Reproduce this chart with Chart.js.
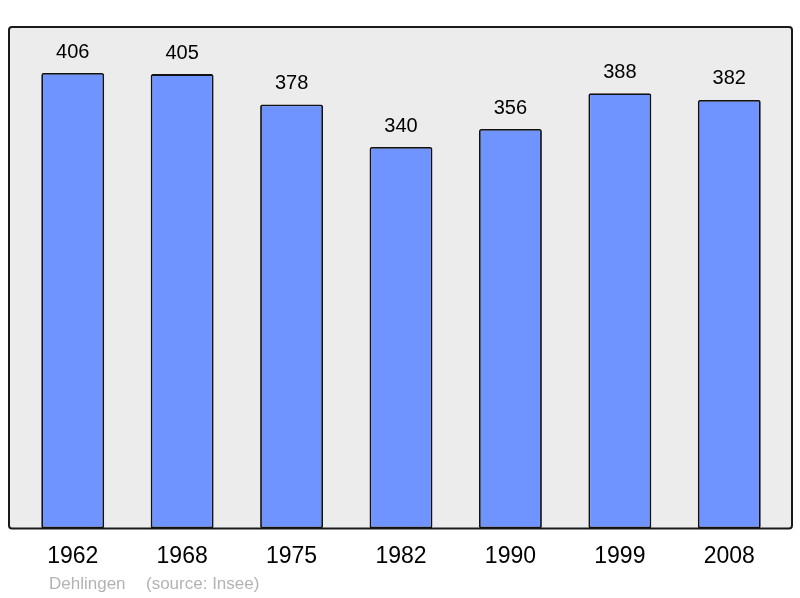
<!DOCTYPE html>
<html>
<head>
<meta charset="utf-8">
<script src="https://cdn.jsdelivr.net/npm/chart.js@4"></script>
<style>
html,body{margin:0;padding:0;background:#fff;}
#wrap{width:800px;height:598px;}
</style>
</head>
<body>
<div id="wrap"><canvas id="c" width="800" height="598"></canvas></div>
<script>
const categories = ["1962","1968","1975","1982","1990","1999","2008"];
const population = [406,405,378,340,356,388,382];
const footerName = "Dehlingen";
const footerSource = "(source: Insee)";

const boxPlugin = {
  id: 'box',
  beforeDraw(chart) {
    const {ctx, chartArea: a} = chart;
    const x = a.left - 9, y = a.top, w = (a.right + 8) - x, h = a.bottom - a.top;
    ctx.save();
    ctx.beginPath();
    ctx.roundRect(x, y, w, h, 3);
    ctx.fillStyle = '#ececec';
    ctx.fill();
    ctx.lineWidth = 2;
    ctx.strokeStyle = '#1a1a1a';
    ctx.stroke();
    ctx.restore();
  },
  afterDatasetsDraw(chart) {
    const {ctx} = chart;
    const meta = chart.getDatasetMeta(0);
    ctx.save();
    ctx.font = '20px "Liberation Sans", Arial, sans-serif';
    ctx.fillStyle = '#000';
    ctx.textAlign = 'center';
    ctx.textBaseline = 'middle';
    meta.data.forEach((bar, i) => {
      ctx.fillText(String(population[i]), bar.x, bar.y - 21);
    });
    ctx.font = '17px "Liberation Sans", Arial, sans-serif';
    ctx.fillStyle = '#b3b3b3';
    ctx.textAlign = 'left';
    ctx.fillText(footerName, 49, 584);
    ctx.fillText(footerSource, 146, 584);
    ctx.restore();
  }
};

new Chart(document.getElementById('c'), {
  type: 'bar',
  data: {
    labels: categories,
    datasets: [{
      data: population,
      backgroundColor: '#7094ff',
      borderColor: '#111',
      borderWidth: 1.8,
      borderRadius: 2,
      borderSkipped: false,
      barPercentage: 0.575,
      categoryPercentage: 1
    }]
  },
  options: {
    responsive: false,
    animation: false,
    events: [],
    layout: {padding: {left: 18, right: 16, top: 27, bottom: 14}},
    plugins: {legend: {display: false}, tooltip: {enabled: false}},
    scales: {
      x: {
        grid: {display: false, drawTicks: false},
        border: {display: false},
        ticks: {color: '#000', padding: 14, font: {size: 23, family: '"Liberation Sans", Arial, sans-serif'}}
      },
      y: {
        display: false,
        min: 0,
        max: 447
      }
    }
  },
  plugins: [boxPlugin]
});
</script>
</body>
</html>
